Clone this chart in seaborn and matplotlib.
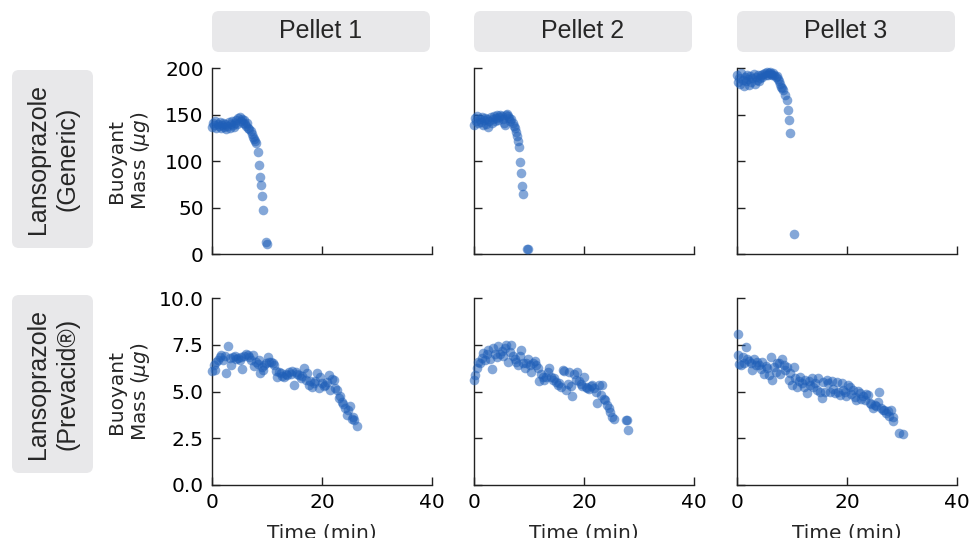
import numpy as np
import pandas as pd
import seaborn as sns
import matplotlib.pyplot as plt
from matplotlib.patches import FancyBboxPatch

# ---------------- data ----------------
col_titles = ["Pellet 1", "Pellet 2", "Pellet 3"]
row_titles = ["Lansoprazole\n(Generic)", "Lansoprazole\n(Prevacid®)"]

gen1_t = [0.0, 0.2, 0.4, 0.6, 0.8, 1.0, 1.2, 1.4, 1.6, 1.8,
          2.0, 2.2, 2.4, 2.6, 2.8, 3.0, 3.2, 3.4, 3.6, 3.8,
          4.0, 4.2, 4.4, 4.6, 4.8, 5.0, 5.2, 5.4, 5.6, 5.8,
          6.0, 6.2, 6.4, 6.6, 6.8, 7.0, 7.2, 7.4, 7.6, 7.8,
          8.0, 8.3, 8.5, 8.7, 8.9, 9.1, 9.3, 9.8, 10.0]
gen1_m = [137, 141, 139, 143, 136, 140, 138, 142, 135, 139,
          141, 137, 140, 134, 138, 142, 136, 140, 143, 139,
          137, 141, 144, 140, 146, 147, 143, 145, 141, 144,
          140, 138, 141, 136, 134, 132, 129, 126, 124, 121,
          119, 110, 96, 83, 74, 62, 47, 13, 11]

gen2_t = [0.0, 0.2, 0.4, 0.6, 0.8, 1.0, 1.2, 1.4, 1.6, 1.8,
          2.0, 2.2, 2.4, 2.6, 2.8, 3.0, 3.2, 3.4, 3.6, 3.8,
          4.0, 4.2, 4.4, 4.6, 4.8, 5.0, 5.2, 5.4, 5.6, 5.8,
          6.0, 6.2, 6.4, 6.6, 6.8, 7.0, 7.2, 7.4, 7.6, 7.8,
          8.0, 8.2, 8.4, 8.5, 8.7, 8.9, 9.6, 9.8]
gen2_m = [139, 146, 143, 148, 141, 145, 142, 147, 139, 144,
          146, 140, 145, 137, 143, 147, 141, 145, 148, 143,
          146, 149, 144, 147, 150, 148, 145, 141, 139, 149,
          151, 148, 146, 143, 145, 141, 138, 135, 131, 127,
          122, 115, 99, 87, 73, 65, 5, 5]

gen3_t = [0.0, 0.2, 0.4, 0.6, 0.8, 1.0, 1.2, 1.4, 1.6, 1.8,
          2.0, 2.2, 2.4, 2.6, 2.8, 3.0, 3.2, 3.4, 3.6, 3.8,
          4.0, 4.2, 4.4, 4.6, 4.8, 5.0, 5.2, 5.4, 5.6, 5.8,
          6.0, 6.2, 6.4, 6.6, 6.8, 7.0, 7.2, 7.4, 7.6, 7.8,
          8.0, 8.2, 8.4, 8.7, 9.1, 9.3, 9.5, 9.6, 10.4]
gen3_m = [192, 185, 189, 183, 195, 187, 181, 190, 186, 193,
          188, 182, 191, 185, 189, 194, 183, 190, 187, 192,
          186, 189, 193, 190, 194, 195, 192, 196, 193, 195,
          196, 194, 192, 195, 193, 190, 191, 188, 186, 183,
          180, 178, 176, 171, 166, 155, 144, 130, 22]

prev1_t = [0.0, 0.3, 0.5, 0.8, 1.1, 1.4, 1.7, 2.0, 2.3, 2.5,
           2.9, 3.2, 3.5, 3.8, 4.1, 4.4, 4.7, 5.0, 5.3, 5.5,
           5.9, 6.2, 6.5, 6.8, 7.1, 7.4, 7.7, 8.0, 8.3, 8.6,
           8.7, 9.0, 9.2, 9.5, 9.8, 10.1, 10.4, 10.7, 11.0, 11.3,
           11.6, 11.9, 12.2, 12.5, 12.8, 13.1, 13.4, 13.7, 14.0, 14.3,
           14.6, 14.9, 15.2, 15.5, 15.8, 16.1, 16.4, 16.7, 17.0, 17.3,
           17.6, 17.9, 18.2, 18.5, 18.8, 19.1, 19.4, 19.7, 20.0, 20.3,
           20.6, 20.9, 21.2, 21.5, 21.8, 22.1, 22.4, 22.7, 23.0, 23.3,
           23.6, 23.9, 24.2, 24.5, 24.8, 25.1, 25.4, 25.7, 25.9, 26.3]
prev1_m = [6.1, 6.4, 6.15, 6.6, 6.7, 6.85, 6.95, 6.7, 6.9, 6.0,
           7.45, 6.8, 6.4, 6.85, 6.9, 6.75, 6.8, 6.7, 6.85, 6.2,
           6.9, 7.0, 6.95, 6.85, 6.7, 6.95, 6.35, 6.6, 6.45, 6.7,
           6.0, 6.3, 6.15, 6.4, 6.5, 6.85, 6.6, 6.6, 6.5, 6.4,
           6.1, 5.8, 6.05, 6.0, 5.85, 5.8, 5.95, 5.9, 6.05, 5.95,
           6.1, 5.35, 6.05, 5.95, 5.9, 5.7, 5.85, 6.25, 5.6, 6.0,
           5.35, 5.55, 5.25, 5.45, 5.55, 6.0, 5.2, 5.75, 5.45, 5.3,
           5.35, 5.5, 5.9, 5.1, 5.65, 5.6, 5.2, 5.1, 4.65, 4.75,
           4.45, 4.35, 4.1, 3.75, 4.0, 4.2, 3.55, 3.65, 3.45, 3.15]

prev2_t = [0.0, 0.2, 0.5, 0.8, 1.1, 1.4, 1.7, 2.0, 2.3, 2.6,
           2.9, 3.2, 3.5, 3.8, 4.1, 4.4, 4.7, 5.0, 5.3, 5.6,
           5.9, 6.2, 6.5, 6.8, 7.1, 7.4, 7.7, 8.0, 8.3, 8.6,
           8.9, 9.2, 9.5, 9.8, 10.1, 10.4, 10.7, 11.0, 11.3, 11.6,
           11.9, 12.2, 12.5, 12.8, 13.1, 13.4, 13.7, 14.0, 14.3, 14.6,
           14.9, 15.2, 15.5, 15.8, 16.1, 16.4, 16.7, 17.0, 17.3, 17.6,
           17.9, 18.2, 18.5, 18.8, 19.1, 19.4, 19.7, 20.0, 20.3, 20.6,
           20.9, 21.2, 21.5, 21.8, 22.1, 22.4, 22.7, 23.0, 23.3, 23.6,
           23.9, 24.2, 24.5, 24.8, 25.1, 25.4, 27.6, 27.9, 28.0]
prev2_m = [5.6, 5.9, 6.25, 6.6, 6.55, 6.8, 7.05, 6.7, 7.0, 7.2,
           6.75, 6.2, 7.3, 7.0, 6.85, 7.45, 7.0, 7.15, 6.9, 7.3,
           7.5, 6.6, 7.1, 7.5, 6.9, 6.75, 6.6, 6.4, 6.9, 7.2,
           6.5, 6.25, 6.5, 6.75, 6.4, 6.05, 6.5, 6.65, 6.4, 6.25,
           5.55, 5.95, 5.8, 5.6, 5.75, 6.05, 6.25, 5.8, 5.6, 5.7,
           5.5, 5.35, 5.45, 5.25, 6.15, 6.1, 5.1, 5.4, 6.05, 5.3,
           4.75, 5.95, 5.6, 6.05, 5.55, 5.4, 5.3, 5.8, 5.25, 5.2,
           5.15, 5.3, 5.35, 5.2, 5.0, 4.4, 5.35, 4.8, 5.35, 4.6,
           4.55, 4.3, 4.1, 3.9, 3.65, 3.55, 3.5, 3.45, 2.95]

prev3_t = [0.1, 0.1, 0.4, 0.7, 1.0, 1.3, 1.6, 1.9, 2.2, 2.5,
           2.8, 3.1, 3.4, 3.7, 4.0, 4.3, 4.6, 4.9, 5.2, 5.5,
           5.8, 6.1, 6.4, 6.7, 7.0, 7.3, 7.6, 7.9, 8.2, 8.5,
           8.8, 9.1, 9.4, 9.7, 10.0, 10.3, 10.6, 10.9, 11.2, 11.5,
           11.8, 12.1, 12.4, 12.7, 13.0, 13.3, 13.6, 13.9, 14.2, 14.5,
           14.8, 15.1, 15.4, 15.7, 16.0, 16.3, 16.6, 16.9, 17.2, 17.5,
           17.8, 18.1, 18.4, 18.7, 19.0, 19.3, 19.6, 19.9, 20.2, 20.5,
           20.8, 21.1, 21.4, 21.7, 22.0, 22.3, 22.6, 22.9, 23.2, 23.5,
           23.8, 24.1, 24.4, 24.7, 25.0, 25.3, 25.6, 25.9, 26.2, 26.5,
           26.8, 27.1, 27.4, 27.7, 28.0, 28.3, 28.3, 29.5, 30.1]
prev3_m = [8.1, 6.95, 6.45, 6.4, 6.85, 6.55, 7.4, 6.75, 6.65, 6.5,
           6.15, 6.75, 6.4, 6.6, 6.4, 6.2, 6.6, 5.95, 6.35, 6.25,
           5.9, 6.85, 5.6, 6.3, 6.05, 6.55, 6.5, 5.95, 6.75, 6.4,
           6.15, 6.3, 5.6, 6.0, 5.35, 6.3, 5.7, 5.25, 5.55, 5.8,
           5.45, 5.25, 5.6, 4.9, 5.55, 5.35, 5.7, 5.25, 5.45, 5.1,
           5.7, 5.0, 4.65, 5.5, 5.0, 5.6, 5.45, 4.95, 5.55, 5.15,
           4.9, 5.5, 5.0, 4.8, 5.45, 5.1, 4.95, 4.75, 5.35, 5.25,
           4.85, 5.1, 4.7, 4.55, 5.05, 4.9, 4.6, 4.75, 4.55, 4.85,
           4.8, 4.4, 4.35, 4.1, 4.3, 4.2, 4.45, 5.0, 4.1, 4.0,
           4.0, 3.85, 3.95, 3.7, 4.0, 3.65, 3.4, 2.8, 2.75]

x_ticks = [0, 20, 40]
y_ticks_top = [0, 50, 100, 150, 200]
y_ticks_bottom = [0.0, 2.5, 5.0, 7.5, 10.0]

panels = [[(gen1_t, gen1_m), (gen2_t, gen2_m), (gen3_t, gen3_m)],
          [(prev1_t, prev1_m), (prev2_t, prev2_m), (prev3_t, prev3_m)]]

# ---------------- style ----------------
sns.set_style("ticks")
plt.rcParams['font.family'] = ['DejaVu Sans']
plt.rcParams['mathtext.fontset'] = 'dejavusans'

W, H = 972, 538
fig = plt.figure(figsize=(W / 100, H / 100), dpi=100)

col_left = [212, 474, 737]
ax_w = 220
row_px = [(68, 254), (298, 485)]
dot_color = '#1f5fb8'
box_color = '#e8e8ea'
label_font = ['Liberation Sans', 'DejaVu Sans']

for r in range(2):
    top, bot = row_px[r]
    for c in range(3):
        ax = fig.add_axes([col_left[c] / W, 1 - bot / H, ax_w / W, (bot - top) / H])
        t, m = panels[r][c]
        df = pd.DataFrame({'Time': t, 'Mass': m})
        sns.scatterplot(data=df, x='Time', y='Mass', ax=ax, color=dot_color,
                        alpha=0.55, s=48, linewidth=0, clip_on=False, zorder=3)
        ax.set_xlim(0, 40)
        ax.set_xticks(x_ticks)
        if r == 0:
            ax.set_ylim(0, 200)
            ax.set_yticks(y_ticks_top)
            ax.set_yticklabels([str(v) for v in y_ticks_top])
        else:
            ax.set_ylim(0, 10)
            ax.set_yticks(y_ticks_bottom)
            ax.set_yticklabels([f"{v:.1f}" for v in y_ticks_bottom])
        sns.despine(ax=ax)
        for s in ['left', 'bottom']:
            ax.spines[s].set_linewidth(1.0)
            ax.spines[s].set_color('#222222')
        ax.tick_params(direction='in', length=6, width=1.0, colors='#222222',
                       labelcolor='black', labelsize=14.5, pad=6)
        if c != 0:
            ax.set_yticklabels([])
        if r == 0:
            ax.set_xticklabels([])
            ax.set_xlabel('')
        else:
            ax.set_xlabel('Time (min)', fontsize=14.5, labelpad=8)
        if c == 0:
            ax.set_ylabel('Buoyant\nMass ($\\mu g$)', fontsize=14.5)
            ax.yaxis.set_label_coords(-0.273, 0.5)
        else:
            ax.set_ylabel('')

# column title boxes
for c in range(3):
    x0 = col_left[c] / 100
    box = FancyBboxPatch((x0, (H - 52) / 100), ax_w / 100 - 0.02, 0.41,
                         boxstyle="round,pad=0,rounding_size=0.07",
                         transform=fig.dpi_scale_trans, fc=box_color, ec='none')
    fig.add_artist(box)
    fig.text((col_left[c] + ax_w / 2 - 1) / W, 1 - 31.5 / H, col_titles[c],
             ha='center', va='center', fontsize=18, family=label_font)

# row title boxes
row_box = [(70, 248), (295, 473)]
for r in range(2):
    y_top, y_bot = row_box[r]
    box = FancyBboxPatch((0.12, (H - y_bot) / 100), 0.81, (y_bot - y_top) / 100,
                         boxstyle="round,pad=0,rounding_size=0.07",
                         transform=fig.dpi_scale_trans, fc=box_color, ec='none')
    fig.add_artist(box)
    fig.text(52.5 / W, 1 - ((y_top + y_bot) / 2) / H, row_titles[r],
             ha='center', va='center', rotation=90, fontsize=18,
             family=label_font, linespacing=1.3, multialignment='center')

fig.savefig('out.png', dpi=100)
